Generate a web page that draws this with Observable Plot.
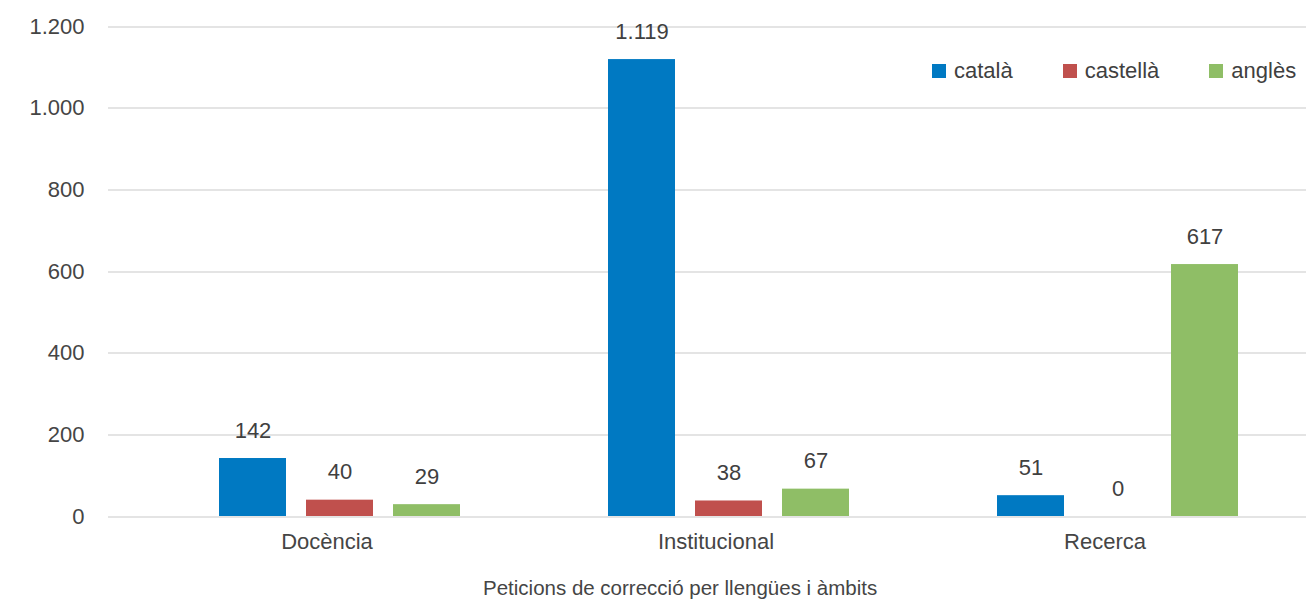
<!DOCTYPE html>
<html>
<head>
<meta charset="utf-8">
<script src="https://cdn.jsdelivr.net/npm/d3@7"></script>
<script src="https://cdn.jsdelivr.net/npm/@observablehq/plot@0.6"></script>
<style>
  body { margin: 0; background: #fff; font-family: "Liberation Sans", Arial, sans-serif; }
  #chart { position: relative; width: 1306px; height: 599px; overflow: hidden; }
  #legend { position: absolute; left: 932px; top: 54px; width: 374px; }
  #legend .lg-swatches-wrap { flex-wrap: nowrap !important; }
  #legend .lg-swatch { margin-right: 50px !important; white-space: nowrap; }
  #legend .lg-swatch > svg { margin-right: 8px !important; }
  #caption { position: absolute; left: 483px; top: 576px; font-size: 20.5px; color: #454545; white-space: nowrap; }
</style>
</head>
<body>
<div id="chart">
  <div id="plot"></div>
  <div id="legend"></div>
  <div id="caption"></div>
</div>
<script>
// Requests per language and field
const ambits = ["Docència", "Institucional", "Recerca"];
const llengues = ["català", "castellà", "anglès"];
const catala = [142, 1119, 51];
const castella = [40, 38, 0];
const angles = [29, 67, 617];
const colors = ["#0079c2", "#c0504d", "#8fbe66"];
const yTicks = [0, 200, 400, 600, 800, 1000, 1200];
const caption = "Peticions de correcció per llengües i àmbits";

const series = [catala, castella, angles];
const rows = ambits.flatMap((ambit, i) =>
  llengues.map((llengua, j) => ({ambit, llengua, valor: series[j][i]}))
);

// Catalan number format: dot as thousands separator
const locale = d3.formatLocale({decimal: ",", thousands: ".", grouping: [3], currency: ["", " €"]});
const fmt = locale.format(",d");
const font = '"Liberation Sans", Arial, sans-serif';

const chart = Plot.plot({
  width: 1306,
  height: 570,
  marginTop: 26,
  marginBottom: 54,
  marginLeft: 132,
  marginRight: 7,
  style: {fontFamily: font, fontSize: "22px", color: "#454545", background: "#fff"},
  fx: {domain: ambits, padding: 0, label: null, axis: "bottom", tickSize: 0, tickPadding: 17},
  x: {domain: llengues, paddingInner: 0.23, paddingOuter: 0.70, insetLeft: 26, axis: null},
  y: {domain: [0, 1200], ticks: yTicks, tickFormat: fmt, tickSize: 0, tickPadding: 48, label: null},
  color: {domain: llengues, range: colors},
  marks: [
    // grid lines span the whole plot width; overlapping facet segments render identically
    Plot.ruleY(yTicks, {stroke: "#e4e4e4", strokeWidth: 2, shapeRendering: "crispEdges", insetLeft: -24, insetRight: -7}),
    Plot.barY(rows, {fx: "ambit", x: "llengua", y: "valor", fill: "llengua"}),
    Plot.text(rows, {fx: "ambit", x: "llengua", y: "valor", text: d => fmt(d.valor), dy: -28, fill: "#404040"})
  ]
});
document.getElementById("plot").append(chart);

const legend = Plot.legend({
  color: {domain: llengues, range: colors},
  legend: "swatches",
  swatchSize: 14,
  className: "lg",
  style: {fontFamily: font, fontSize: "22px", color: "#404040"}
});
document.getElementById("legend").append(legend);

document.getElementById("caption").textContent = caption;
</script>
</body>
</html>
